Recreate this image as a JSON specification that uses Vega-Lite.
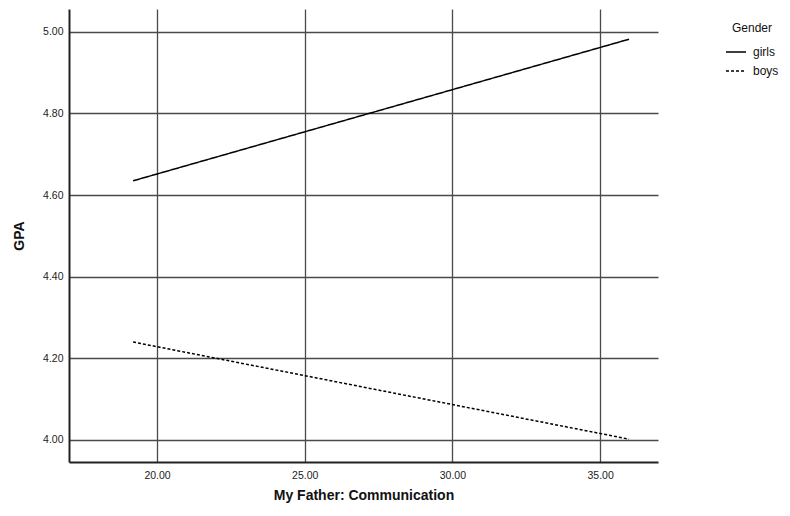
{
  "$schema": "https://vega.github.io/schema/vega-lite/v6.json",
  "width": 589,
  "height": 453,
  "autosize": {"type": "none"},
  "padding": {"left": 69, "top": 9, "right": 132, "bottom": 54},
  "background": "white",
  "config": {
    "view": {"stroke": null},
    "font": "Liberation Sans"
  },
  "data": {
    "values": [
      {"comm": 19.19, "GPA": 4.635, "Gender": "girls"},
      {"comm": 35.98, "GPA": 4.982, "Gender": "girls"},
      {"comm": 19.19, "GPA": 4.240, "Gender": "boys"},
      {"comm": 35.98, "GPA": 4.002, "Gender": "boys"}
    ]
  },
  "mark": {"type": "line", "color": "black", "strokeWidth": 1.5},
  "encoding": {
    "x": {
      "field": "comm",
      "type": "quantitative",
      "title": "My Father: Communication",
      "scale": {"domain": [17.02, 36.96], "nice": false, "zero": false},
      "axis": {
        "values": [20, 25, 30, 35],
        "format": ".2f",
        "grid": true,
        "gridColor": "#4a4a4a",
        "gridWidth": 1.3,
        "gridOpacity": 1,
        "domainColor": "#222222",
        "domainWidth": 2,
        "ticks": false,
        "labelPadding": 8,
        "labelFontSize": 10.5,
        "labelColor": "#222222",
        "titleFontSize": 14,
        "titleFontWeight": "bold",
        "titleColor": "#111111",
        "titlePadding": 8
      }
    },
    "y": {
      "field": "GPA",
      "type": "quantitative",
      "title": "GPA",
      "scale": {"domain": [3.946, 5.056], "nice": false, "zero": false},
      "axis": {
        "values": [4.0, 4.2, 4.4, 4.6, 4.8, 5.0],
        "format": ".2f",
        "grid": true,
        "gridColor": "#4a4a4a",
        "gridWidth": 1.3,
        "gridOpacity": 1,
        "domainColor": "#222222",
        "domainWidth": 2,
        "ticks": false,
        "labelPadding": 6,
        "labelFontSize": 10.5,
        "labelColor": "#222222",
        "titleFontSize": 14,
        "titleFontWeight": "bold",
        "titleColor": "#111111",
        "titlePadding": 16
      }
    },
    "strokeDash": {
      "field": "Gender",
      "type": "nominal",
      "scale": {"domain": ["girls", "boys"], "range": [[1, 0], [3, 2]]},
      "legend": {
        "orient": "none",
        "legendX": 656,
        "legendY": 14,
        "title": "Gender",
        "titleFontSize": 12,
        "titleFontWeight": "normal",
        "titleColor": "#111111",
        "titleAnchor": "middle",
        "titlePadding": 6,
        "labelFontSize": 12,
        "labelColor": "#111111",
        "symbolType": "stroke",
        "symbolSize": 400,
        "symbolStrokeColor": "black",
        "symbolStrokeWidth": 1.5,
        "rowPadding": 2,
        "labelOffset": 6
      }
    }
  }
}
